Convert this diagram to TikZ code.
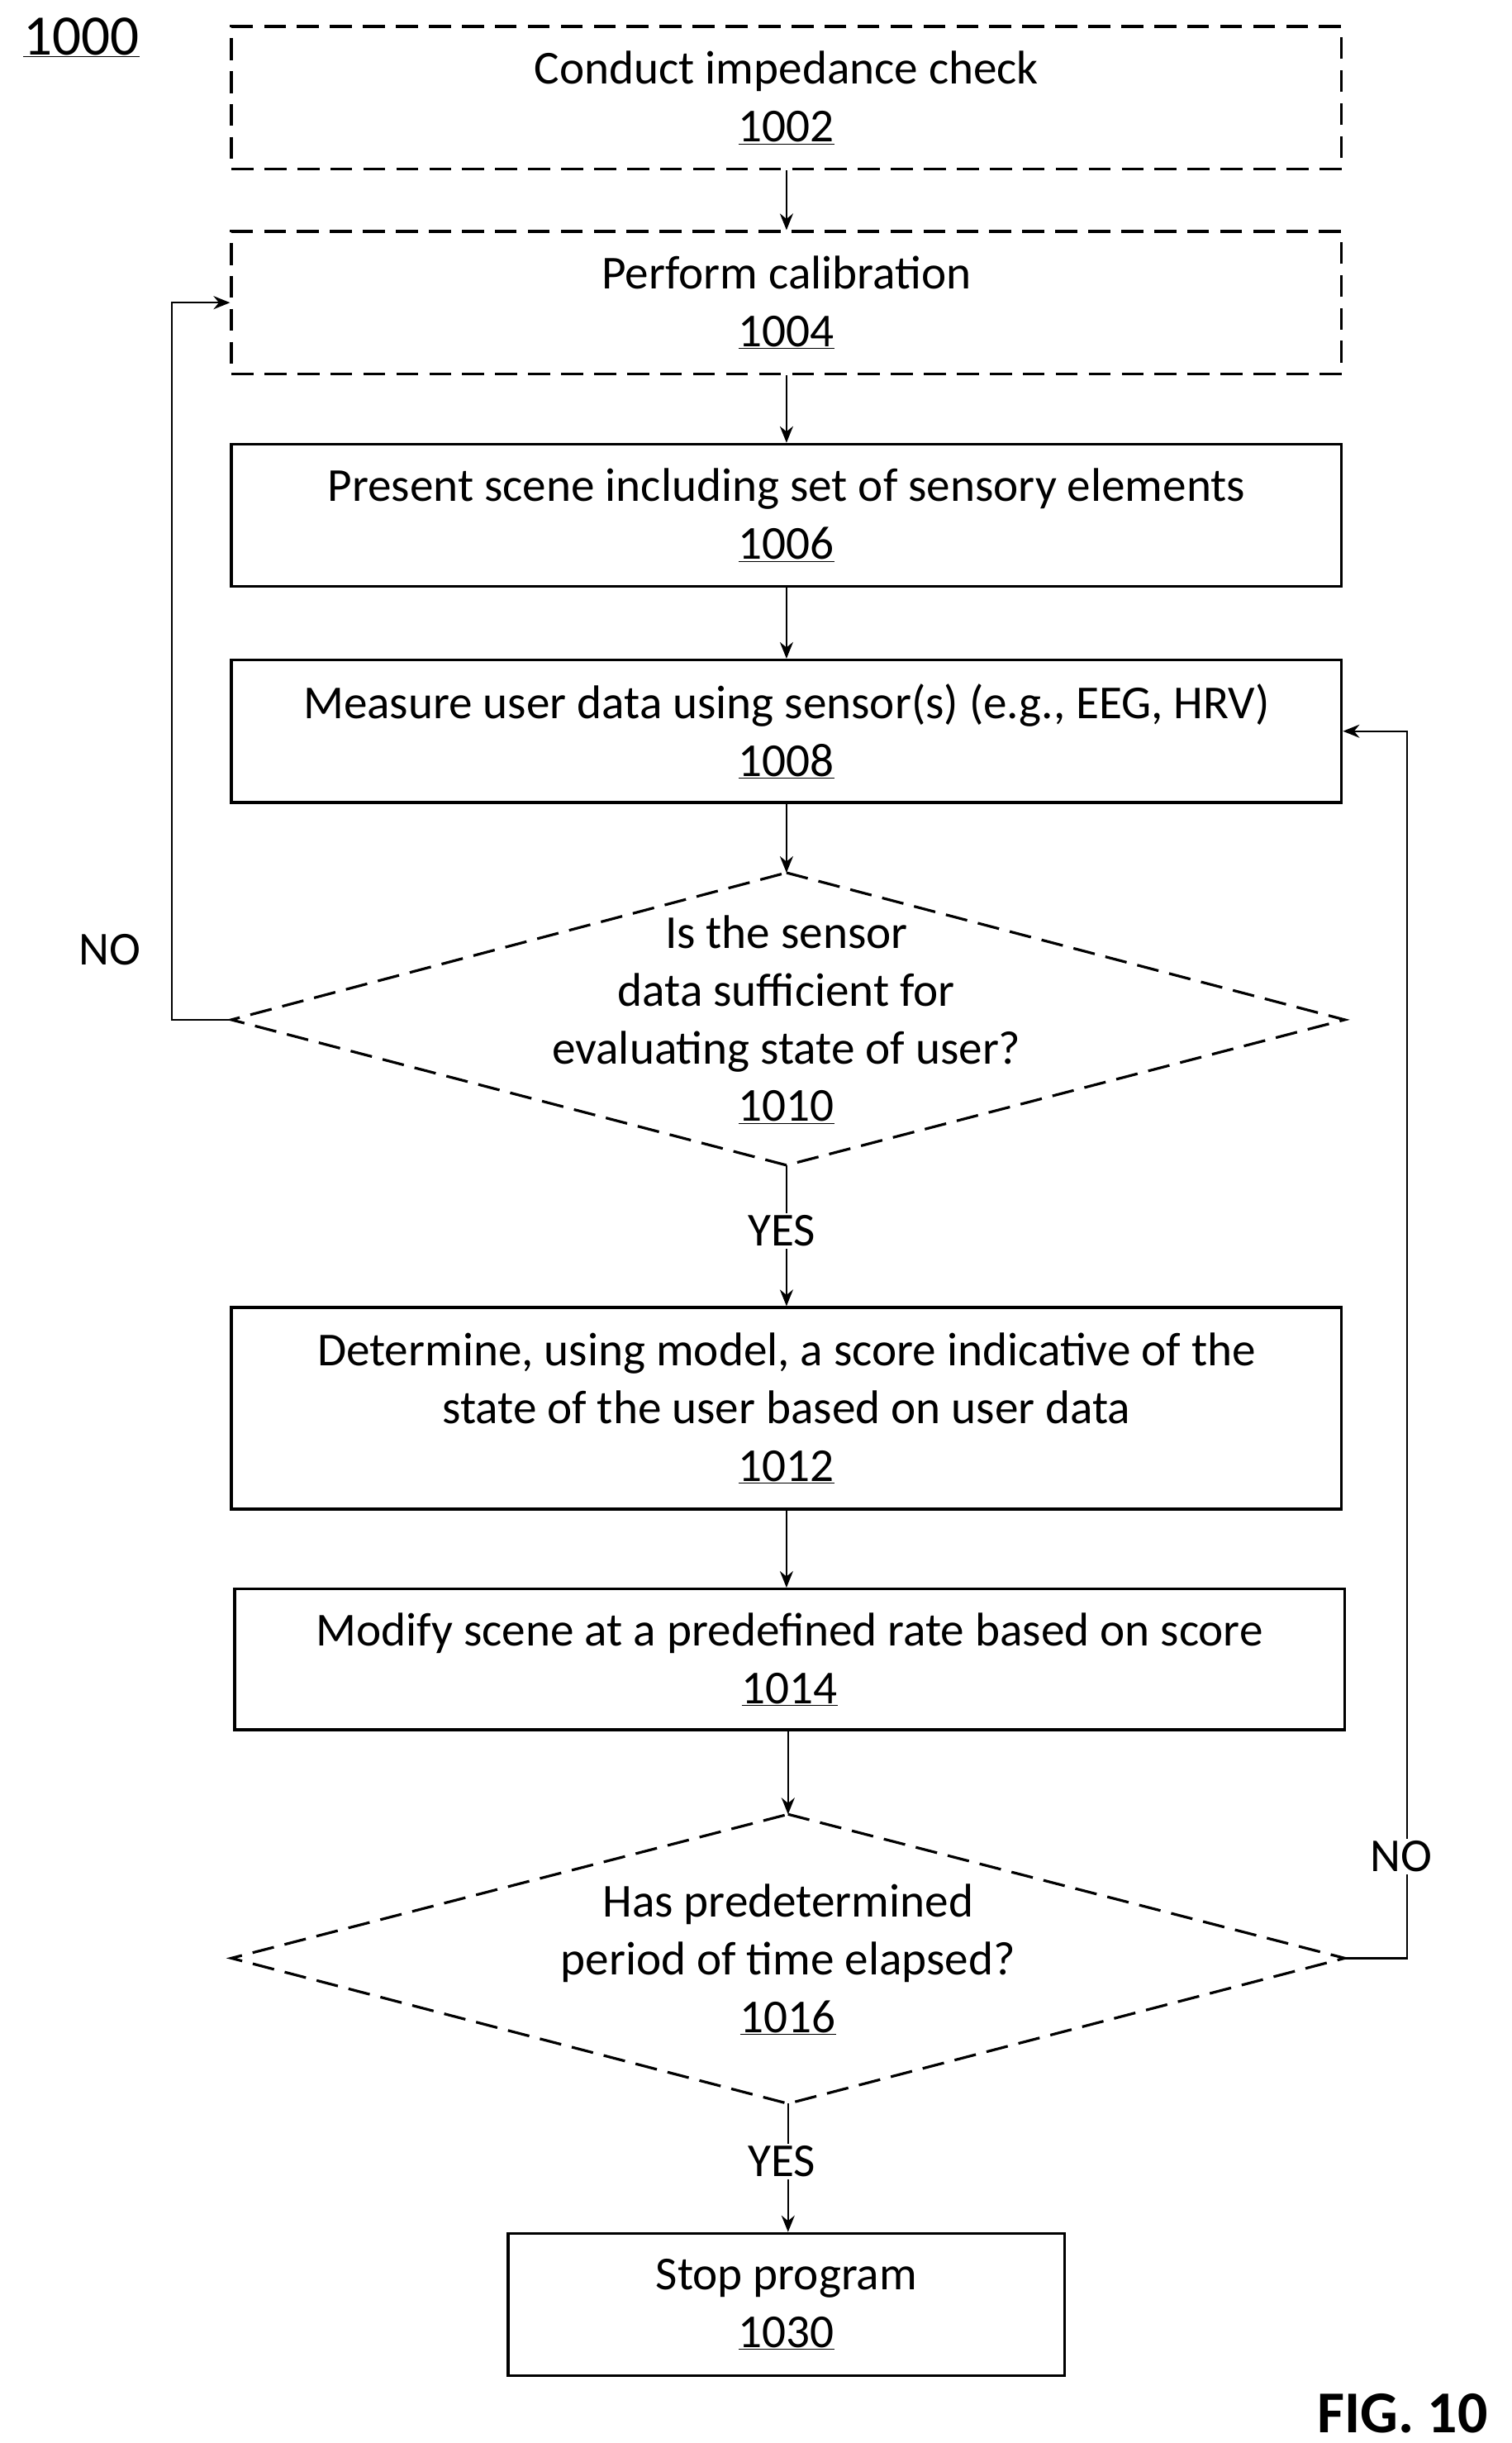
\documentclass[tikz,border=0pt]{standalone}
\usepackage{fontspec}
\setmainfont{Carlito}
\usetikzlibrary{arrows.meta}
\begin{document}
\begin{tikzpicture}[x=0.05cm,y=-0.05cm,
  every node/.style={font=\fontsize{43}{52.5}\selectfont, align=center, inner sep=0pt},
  box/.style={draw, line width=2.6pt, minimum width=35.5cm},
  dbox/.style={box, dash pattern=on 20pt off 10pt},
  dsh/.style={line width=2.4pt, dash pattern=on 20pt off 10pt},
  ln/.style={line width=1.8pt},
  arr/.style={ln, -{Stealth[length=15pt,width=12pt]}},
  lbl/.style={font=\fontsize{43}{52.5}\selectfont, fill=white, inner sep=2pt}]
\useasboundingbox (0,0) rectangle (967,1562);
\node[font=\fontsize{52}{60}\selectfont] (n1000) at (52,24) {\underline{1000}};
\node[dbox, minimum height=4.55cm] (b1002) at (503,62.5) {Conduct impedance check\\\underline{1002}};
\node[dbox, minimum height=4.55cm] (b1004) at (503,193.5) {Perform calibration\\\underline{1004}};
\node[box, minimum height=4.55cm] (b1006) at (503,329.5) {Present scene including set of sensory elements\\\underline{1006}};
\node[box, minimum height=4.55cm] (b1008) at (503,467.5) {Measure user data using sensor(s) (e.g., EEG, HRV)\\\underline{1008}};
% diamond 1010
\coordinate (d1t) at (503,558); \coordinate (d1r) at (860,652);
\coordinate (d1b) at (503,745); \coordinate (d1l) at (148,652);
\draw[dsh] (d1t) -- (d1r) -- (d1b) -- (d1l) -- cycle;
\node (t1010) at (503,652) {Is the sensor\\data sufficient for\\evaluating state of user?\\\underline{1010}};
\node[lbl] (yes1) at (500,787) {YES};
\node[box, minimum height=6.45cm] (b1012) at (503,900.5) {Determine, using model, a score indicative of the\\state of the user based on user data\\\underline{1012}};
\node[box, minimum height=4.5cm] (b1014) at (505,1061) {Modify scene at a predefined rate based on score\\\underline{1014}};
% diamond 1016
\coordinate (d2t) at (504,1160); \coordinate (d2r) at (860,1252);
\coordinate (d2b) at (504,1345); \coordinate (d2l) at (148,1252);
\draw[dsh] (d2t) -- (d2r) -- (d2b) -- (d2l) -- cycle;
\node (t1016) at (504,1253) {Has predetermined\\period of time elapsed?\\\underline{1016}};
\node[lbl] (yes2) at (500,1382) {YES};
\node[draw, line width=2.6pt, minimum width=17.8cm, minimum height=4.55cm] (b1030) at (503,1473.5) {Stop program\\\underline{1030}};
\node[lbl] (no1) at (70,607) {NO};
% connectors
\draw[arr] (b1002) -- (b1004);
\draw[arr] (b1004) -- (b1006);
\draw[arr] (b1006) -- (b1008);
\draw[arr] (b1008) -- (d1t);
\draw[ln] (d1b) -- (d1b |- yes1.north);
\draw[arr] (d1b |- yes1.south) -- (d1b |- b1012.north);
\draw[arr] (b1012) -- (b1014.north -| b1012);
\draw[arr] (d2t |- b1014.south) -- (d2t);
\draw[ln] (d2b) -- (d2b |- yes2.north);
\draw[arr] (d2b |- yes2.south) -- (d2b |- b1030.north);
\draw[arr] (d1l) -- (110,652) |- (b1004.west);
\draw[arr] (d2r) -- (900,1252) |- (b1008.east);
\node[lbl] (no2) at (896,1187) {NO};
\node[font=\fontsize{54}{60}\selectfont\bfseries] (fig) at (897,1543) {FIG. 10};
\end{tikzpicture}
\end{document}
